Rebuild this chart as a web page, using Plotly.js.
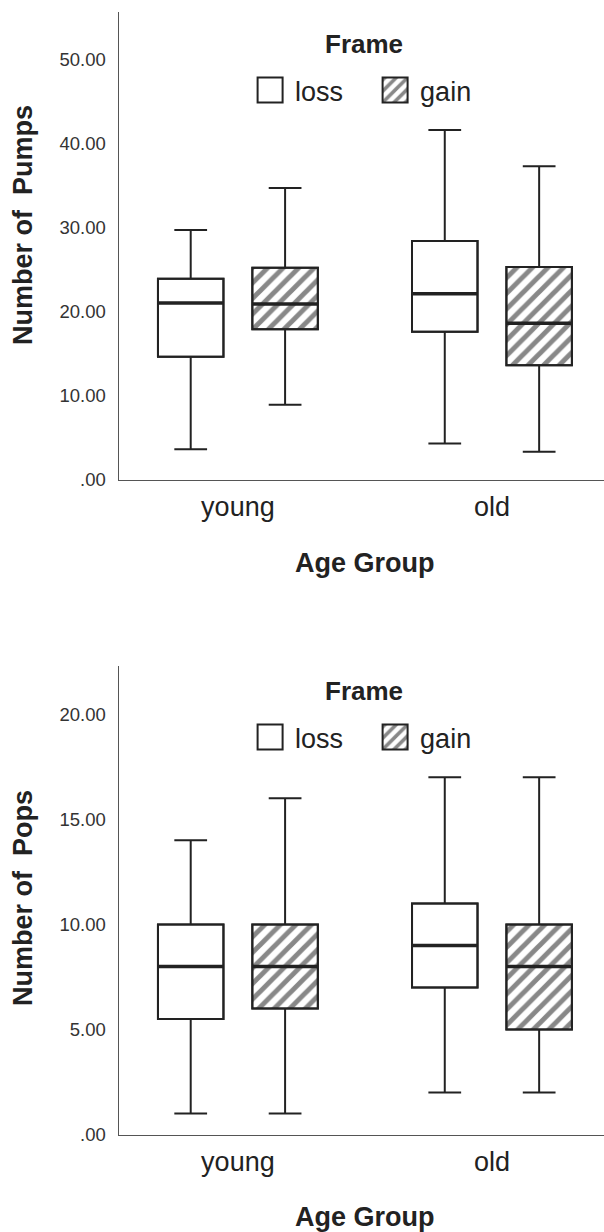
<!DOCTYPE html>
<html>
<head>
<meta charset="utf-8">
<script src="https://cdn.plot.ly/plotly-3.0.1.min.js"></script>
<style>html,body{margin:0;padding:0;background:#fff;}#chart{width:604px;height:1232px;}</style>
</head>
<body>
<div id="chart"></div>
<script>
// ---------- data ----------
const ageGroups = ['young', 'old'];
const frameNames = ['loss', 'gain'];

// Number of Pumps (box statistics)
const pumpsLossLow  = [3.6, 4.3];
const pumpsLossQ1   = [14.6, 17.6];
const pumpsLossMed  = [21.0, 22.1];
const pumpsLossQ3   = [23.9, 28.4];
const pumpsLossHigh = [29.7, 41.6];

const pumpsGainLow  = [8.9, 3.3];
const pumpsGainQ1   = [17.9, 13.6];
const pumpsGainMed  = [20.9, 18.6];
const pumpsGainQ3   = [25.2, 25.3];
const pumpsGainHigh = [34.7, 37.3];

// Number of Pops
const popsLossLow  = [1, 2];
const popsLossQ1   = [5.5, 7];
const popsLossMed  = [8, 9];
const popsLossQ3   = [10, 11];
const popsLossHigh = [14, 17];

const popsGainLow  = [1, 2];
const popsGainQ1   = [6, 5];
const popsGainMed  = [8, 8];
const popsGainQ3   = [10, 10];
const popsGainHigh = [16, 17];

// tick labels
const pumpsTickVals = [0, 10, 20, 30, 40, 50];
const pumpsTickText = ['.00', '10.00', '20.00', '30.00', '40.00', '50.00'];
const popsTickVals = [0, 5, 10, 15, 20];
const popsTickText = ['.00', '5.00', '10.00', '15.00', '20.00'];

// ---------- styling ----------
const FONT = 'Liberation Sans, Arial, Helvetica, sans-serif';
const INK = '#222';

function panel(xa, ya, legendId, stats) {
  const traces = [];
  // box bodies (fill) as floating bars
  stats.forEach((s, i) => {
    const isGain = i === 1;
    traces.push({
      type: 'bar', name: frameNames[i], x: ageGroups,
      base: s.q1, y: s.q3.map((v, k) => v - s.q1[k]),
      xaxis: xa, yaxis: ya, legend: legendId,
      offsetgroup: frameNames[i], alignmentgroup: 'g',
      marker: isGain ? {
        color: 'white',
        line: {color: INK, width: 2},
        pattern: {shape: '/', fillmode: 'overlay', fgcolor: '#111', bgcolor: 'white', size: 11, solidity: 0.45}
      } : {color: 'white', line: {color: INK, width: 2}},
      hoverinfo: 'skip', showlegend: true
    });
  });
  // outlines, whiskers
  stats.forEach((s, i) => {
    traces.push({
      type: 'box', name: frameNames[i], x: ageGroups,
      q1: s.q1, median: s.med, q3: s.q3, lowerfence: s.low, upperfence: s.high,
      xaxis: xa, yaxis: ya, offsetgroup: frameNames[i], alignmentgroup: 'g',
      fillcolor: 'rgba(0,0,0,0)', line: {color: INK, width: 2},
      whiskerwidth: 0.5, boxpoints: false, showlegend: false, hoverinfo: 'skip'
    });
  });
  // thick median lines
  stats.forEach((s, i) => {
    traces.push({
      type: 'box', name: frameNames[i], x: ageGroups,
      q1: s.med, median: s.med, q3: s.med, lowerfence: s.med, upperfence: s.med,
      xaxis: xa, yaxis: ya, offsetgroup: frameNames[i], alignmentgroup: 'g',
      fillcolor: 'rgba(0,0,0,0)', line: {color: INK, width: 3.5},
      whiskerwidth: 0, boxpoints: false, showlegend: false, hoverinfo: 'skip'
    });
  });
  return traces;
}

const data = [].concat(
  panel('x', 'y', 'legend', [
    {low: pumpsLossLow, q1: pumpsLossQ1, med: pumpsLossMed, q3: pumpsLossQ3, high: pumpsLossHigh},
    {low: pumpsGainLow, q1: pumpsGainQ1, med: pumpsGainMed, q3: pumpsGainQ3, high: pumpsGainHigh}
  ]),
  panel('x2', 'y2', 'legend2', [
    {low: popsLossLow, q1: popsLossQ1, med: popsLossMed, q3: popsLossQ3, high: popsLossHigh},
    {low: popsGainLow, q1: popsGainQ1, med: popsGainMed, q3: popsGainQ3, high: popsGainHigh}
  ])
);

const H = 1232;
const py = px => 1 - px / H;

const xaxisBase = {
  type: 'category', range: [-0.468, 1.441], domain: [0, 1],
  showline: true, linecolor: '#555', linewidth: 1.5, mirror: false,
  ticks: '', showgrid: false, zeroline: false, ticklabelstandoff: 3,
  tickfont: {family: FONT, size: 27, color: INK}, fixedrange: true
};
const yaxisBase = {
  showline: true, linecolor: '#555', linewidth: 1.5,
  ticks: '', showgrid: false, zeroline: false, ticklabelstandoff: 8,
  tickfont: {family: FONT, size: 18.5, color: '#333'}, fixedrange: true
};
const legendBase = {
  orientation: 'h', xref: 'paper', yref: 'paper', xanchor: 'left', yanchor: 'top',
  x: 0.26, font: {family: FONT, size: 27, color: INK},
  itemwidth: 40, entrywidth: 70, entrywidthmode: 'pixels',
  bgcolor: 'rgba(0,0,0,0)', borderwidth: 0, traceorder: 'normal'
};

const ann = (text, x, y, size, extra) => Object.assign({
  text: text, xref: 'paper', yref: 'paper', x: x, y: y,
  xanchor: 'center', yanchor: 'middle', showarrow: false,
  font: {family: FONT, size: size, color: INK, weight: 'bold'}
}, extra || {});

const layout = {
  width: 604, height: H,
  margin: {l: 119, r: 0, t: 0, b: 0},
  paper_bgcolor: '#fff', plot_bgcolor: '#fff',
  font: {family: FONT, color: INK},
  boxmode: 'group', boxgap: 0.257, boxgroupgap: 0.306,
  barmode: 'group', bargap: 0.257, bargroupgap: 0.306,
  xaxis: Object.assign({}, xaxisBase, {anchor: 'y'}),
  yaxis: Object.assign({}, yaxisBase, {anchor: 'x', domain: [py(479.5), py(12)], range: [0, 55.65],
    tickvals: pumpsTickVals, ticktext: pumpsTickText}),
  xaxis2: Object.assign({}, xaxisBase, {anchor: 'y2'}),
  yaxis2: Object.assign({}, yaxisBase, {anchor: 'x2', domain: [py(1134.5), py(666)], range: [0, 22.3],
    tickvals: popsTickVals, ticktext: popsTickText}),
  legend: Object.assign({}, legendBase, {y: py(66)}),
  legend2: Object.assign({}, legendBase, {y: py(713)}),
  annotations: [
    ann('Frame', 0.5045, py(44), 26),
    ann('Frame', 0.5045, py(691), 26),
    ann('Age Group', 0.507, py(563), 27),
    ann('Age Group', 0.507, py(1217), 27),
    ann('Number of\u00a0 Pumps', (23 - 119) / 485, py(225), 27, {textangle: -90}),
    ann('Number of\u00a0 Pops', (23 - 119) / 485, py(898), 27, {textangle: -90})
  ],
  showlegend: true
};

Plotly.newPlot('chart', data, layout, {staticPlot: true, displayModeBar: false}).then(() => {
  document.querySelectorAll('.legendpoints path').forEach(p => {
    p.setAttribute('d', 'M12.5,12.5H-12.5V-12.5H12.5Z');
  });
});
</script>
</body>
</html>
